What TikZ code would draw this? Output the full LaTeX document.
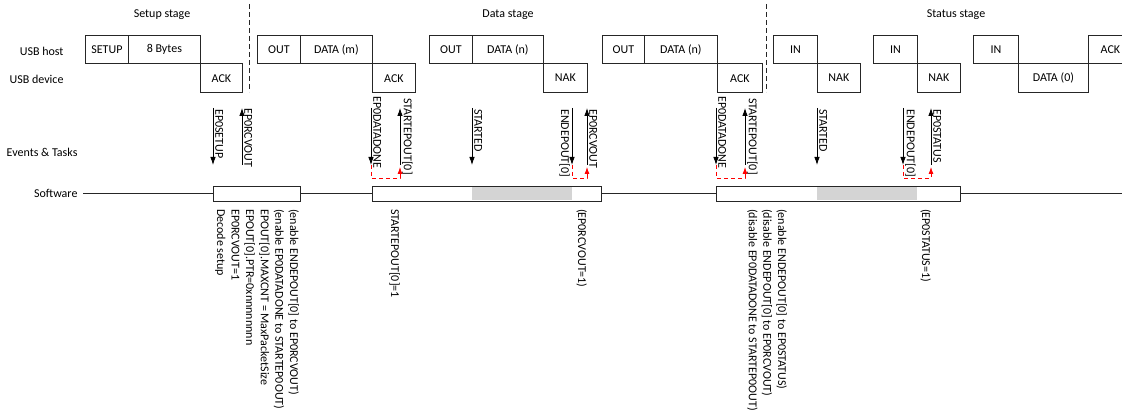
\documentclass[tikz,border=0pt]{standalone}
\usepackage{fontspec}
\setmainfont{Carlito}
\usetikzlibrary{arrows.meta}
\begin{document}
\begin{tikzpicture}[x=1pt,y=-1pt,
  every node/.style={font=\fontsize{12}{14.6}\selectfont, text=black},
  pkt/.style={draw=black!85, line width=0.8pt, inner sep=0pt, minimum height=28.5pt, anchor=north west},
  stagesep/.style={draw=black!85, line width=0.8pt, dash pattern=on 5pt off 3pt},
  evt/.style={draw=black, line width=0.8pt, -{Latex[length=8pt,width=5.5pt]}},
  chain/.style={draw=red, line width=0.8pt, dash pattern=on 4pt off 3pt, -{Latex[length=7pt,width=5pt]}},
  evlbl/.style={rotate=-90, inner sep=1pt},
  swline/.style={draw=black!85, line width=0.8pt},
  swbox/.style={draw=black!85, line width=0.8pt, fill=white, inner sep=0pt, minimum height=14.5pt, anchor=north west},
  swtxt/.style={rotate=-90, anchor=north west, align=left, inner sep=0pt},
  grayfill/.style={fill=black!17}
]
\useasboundingbox (0,0) rectangle (1122,417);

% stage titles
\node (t1) at (162,15) {Setup stage};
\node (t2) at (508,15) {Data stage};
\node (t3) at (956,15) {Status stage};

% stage separators
\coordinate (s1a) at (249,4); \coordinate (s1b) at (249,92);
\coordinate (s2a) at (766,4); \coordinate (s2b) at (766,92);
\draw[stagesep] (s1a) -- (s1b);
\draw[stagesep] (s2a) -- (s2b);

% row labels
\node[anchor=east] (lhost) at (67,51) {USB host};
\node[anchor=east] (ldev) at (67,79) {USB device};
\node[anchor=east] (lev) at (81,152) {Events \& Tasks};
\node[anchor=east] (lsw) at (81,193) {Software};

% packets: setup stage
\node[pkt, minimum width=43pt] (p1) at (85,35) {SETUP};
\node[pkt, minimum width=72pt] (p2) at (128,35) {8 Bytes};
\node[pkt, minimum width=42pt] (p3) at (200,63.5) {ACK};
% data stage
\node[pkt, minimum width=43pt] (p4) at (257,35) {OUT};
\node[pkt, minimum width=72pt] (p5) at (300,35) {DATA (m)};
\node[pkt, minimum width=43pt] (p6) at (372,63.5) {ACK};
\node[pkt, minimum width=43pt] (p7) at (429,35) {OUT};
\node[pkt, minimum width=71pt] (p8) at (472,35) {DATA (n)};
\node[pkt, minimum width=44pt] (p9) at (543,63.5) {NAK};
\node[pkt, minimum width=42pt] (p10) at (602,35) {OUT};
\node[pkt, minimum width=73pt] (p11) at (644,35) {DATA (n)};
\node[pkt, minimum width=45pt] (p12) at (717,63.5) {ACK};
% status stage
\node[pkt, minimum width=44pt] (p13) at (773,35) {IN};
\node[pkt, minimum width=43pt] (p14) at (817,63.5) {NAK};
\node[pkt, minimum width=44pt] (p15) at (873,35) {IN};
\node[pkt, minimum width=43pt] (p16) at (917,63.5) {NAK};
\node[pkt, minimum width=45pt] (p17) at (973,35) {IN};
\node[pkt, minimum width=70pt] (p18) at (1018,63.5) {DATA (0)};
\node[pkt, minimum width=44pt] (p19) at (1088,35) {ACK};

% events & tasks arrows
\coordinate (e1a) at (213,108); \coordinate (e1b) at (213,165);
\coordinate (e2a) at (242,165); \coordinate (e2b) at (242,108);
\coordinate (e3a) at (371,108); \coordinate (e3b) at (371,165);
\coordinate (e4a) at (400,165); \coordinate (e4b) at (400,108);
\coordinate (e5a) at (472,108); \coordinate (e5b) at (472,165);
\coordinate (e6a) at (572,108); \coordinate (e6b) at (572,165);
\coordinate (e7a) at (587,165); \coordinate (e7b) at (587,108);
\coordinate (e8a) at (716,108); \coordinate (e8b) at (716,165);
\coordinate (e9a) at (745,165); \coordinate (e9b) at (745,108);
\coordinate (e10a) at (817,108); \coordinate (e10b) at (817,165);
\coordinate (e11a) at (903,108); \coordinate (e11b) at (903,165);
\coordinate (e12a) at (931,165); \coordinate (e12b) at (931,108);
\foreach \i in {1,...,12} { \draw[evt] (e\i a) -- (e\i b); }

% event labels
\node[evlbl, anchor=south west] (l1) at (214,108) {EP0SETUP};
\node[evlbl, anchor=south west] (l2) at (243,107) {EP0RCVOUT};
\node[evlbl, anchor=south west] (l3) at (372,95) {EP0DATADONE};
\node[evlbl, anchor=south west] (l4) at (401,97) {STARTEPOUT[0]};
\node[evlbl, anchor=south west] (l5) at (473,108) {STARTED};
\node[evlbl, anchor=north west] (l6) at (571,108) {ENDEPOUT[0]};
\node[evlbl, anchor=south west] (l7) at (588,108) {EP0RCVOUT};
\node[evlbl, anchor=south west] (l8) at (717,95) {EP0DATADONE};
\node[evlbl, anchor=south west] (l9) at (746,97) {STARTEPOUT[0]};
\node[evlbl, anchor=south west] (l10) at (818,108) {STARTED};
\node[evlbl, anchor=south west] (l11) at (904,108) {ENDEPOUT[0]};
\node[evlbl, anchor=south west] (l12) at (932,108) {EP0STATUS};

% shortcuts (red dashed)
\coordinate (r1) at (400,167); \coordinate (c1) at (371,178);
\coordinate (r2) at (587,167); \coordinate (c2) at (572,178);
\coordinate (r3) at (745,167); \coordinate (c3) at (716,178);
\coordinate (r4) at (931,167); \coordinate (c4) at (903,178);
\draw[chain] (e3b) -- (c1) -| (r1);
\draw[chain] (e6b) -- (c2) -| (r2);
\draw[chain] (e8b) -- (c3) -| (r3);
\draw[chain] (e11b) -- (c4) -| (r4);

% software line
\coordinate (swend) at (1123,193);
\draw[swline] (lsw.east) ++(2,0) -- (swend);
\node[swbox, minimum width=87pt] (b1) at (213,186) {};
\node[swbox, minimum width=229pt] (b2) at (372,186) {};
\node[swbox, minimum width=244pt] (b3) at (716,186) {};
\fill[grayfill] (472,186.4) rectangle (572,200.1);
\fill[grayfill] (817,186.4) rectangle (917,200.1);
\draw[swline] (b2.north west) rectangle (b2.south east);
\draw[swline] (b3.north west) rectangle (b3.south east);

% software texts
\node[swtxt] (x1) at (299,209) {(enable ENDEPOUT[0] to EP0RCVOUT)\\(enable EP0DATADONE to STARTEP0OUT)\\EPOUT[0].MAXCNT = MaxPacketSize\\EPOUT[0].PTR=0xnnnnnnnn\\EP0RCVOUT=1\\Decode setup};
\node[swtxt] (x2) at (400,209) {STARTEPOUT[0]=1};
\node[swtxt] (x3) at (587,209) {(EP0RCVOUT=1)};
\node[swtxt] (x4) at (787,209) {(enable ENDEPOUT[0] to EP0STATUS)\\(disable ENDEPOUT[0] to EP0RCVOUT)\\(disable EP0DATADONE to STARTEP0OUT)};
\node[swtxt] (x5) at (931,209) {(EP0STATUS=1)};
\end{tikzpicture}
\end{document}
